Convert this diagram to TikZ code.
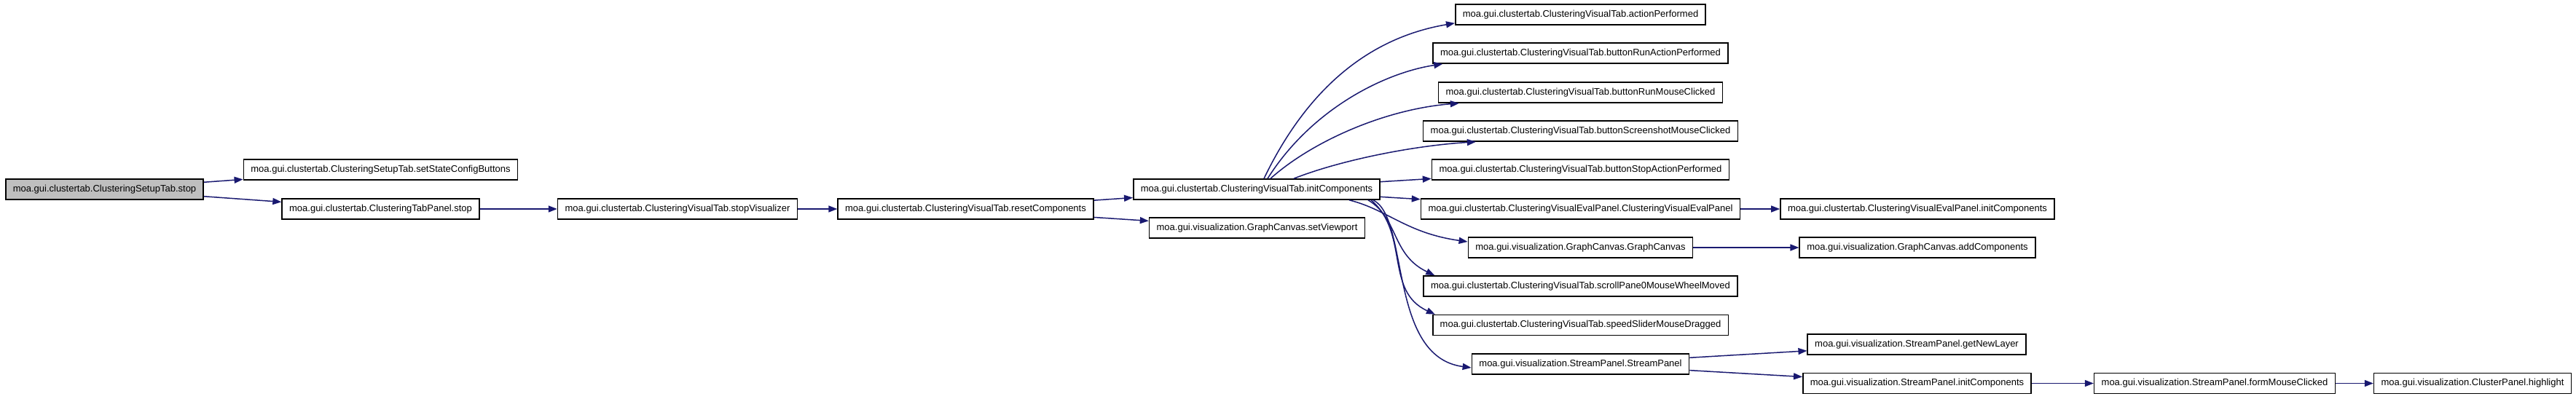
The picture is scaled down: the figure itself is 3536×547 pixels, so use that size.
\documentclass[tikz,border=0pt]{standalone}
\usepackage{fontspec}
\setmainfont{Liberation Sans}
\usetikzlibrary{arrows.meta}
\definecolor{edgeblue}{RGB}{25,25,112}
\definecolor{rootgray}{RGB}{191,191,191}
\tikzset{
  callbox/.style={rectangle, draw=black, line width=1.6pt, fill=white,
                  inner xsep=10pt, inner ysep=0pt, minimum height=28pt,
                  font=\fontsize{13pt}{15pt}\selectfont},
  rootbox/.style={callbox, fill=rootgray},
  arrow/.style={-{Triangle[length=12pt,width=9pt]}, line width=1.5pt, draw=edgeblue, fill=edgeblue},
}

\begin{document}
\begin{tikzpicture}[
    x=1pt,
    y=-1pt,
  ]
    \useasboundingbox (0,0) rectangle (3536,547);

    % Caller chain
    \node[rootbox] (setup_stop) at (143.5,260) {moa.gui.clustertab.ClusteringSetupTab.stop};
    \node[callbox] (set_state) at (522.5,233) {moa.gui.clustertab.ClusteringSetupTab.setStateConfigButtons};
    \node[callbox] (panel_stop) at (522.5,287) {moa.gui.clustertab.ClusteringTabPanel.stop};
    \node[callbox] (stop_vis) at (930,287) {moa.gui.clustertab.ClusteringVisualTab.stopVisualizer};
    \node[callbox] (reset_comp) at (1325.5,287) {moa.gui.clustertab.ClusteringVisualTab.resetComponents};
    \node[callbox] (init_comp) at (1725,260) {moa.gui.clustertab.ClusteringVisualTab.initComponents};
    \node[callbox] (set_viewport) at (1725.5,313) {moa.gui.visualization.GraphCanvas.setViewport};

    % Callees of initComponents
    \node[callbox] (action_perf) at (2169.5,20) {moa.gui.clustertab.ClusteringVisualTab.actionPerformed};
    \node[callbox] (run_action) at (2169.5,73) {moa.gui.clustertab.ClusteringVisualTab.buttonRunActionPerformed};
    \node[callbox] (run_mouse) at (2169.5,127) {moa.gui.clustertab.ClusteringVisualTab.buttonRunMouseClicked};
    \node[callbox] (screenshot) at (2169.5,180) {moa.gui.clustertab.ClusteringVisualTab.buttonScreenshotMouseClicked};
    \node[callbox] (stop_action) at (2169.5,233) {moa.gui.clustertab.ClusteringVisualTab.buttonStopActionPerformed};
    \node[callbox] (eval_panel) at (2169.5,287) {moa.gui.clustertab.ClusteringVisualEvalPanel.ClusteringVisualEvalPanel};
    \node[callbox] (graph_canvas) at (2169.5,340) {moa.gui.visualization.GraphCanvas.GraphCanvas};
    \node[callbox] (scroll_wheel) at (2169.5,393) {moa.gui.clustertab.ClusteringVisualTab.scrollPane0MouseWheelMoved};
    \node[callbox] (speed_drag) at (2169.5,446.5) {moa.gui.clustertab.ClusteringVisualTab.speedSliderMouseDragged};
    \node[callbox] (stream_panel) at (2169.5,500) {moa.gui.visualization.StreamPanel.StreamPanel};

    % Right columns
    \node[callbox] (eval_init) at (2632,287) {moa.gui.clustertab.ClusteringVisualEvalPanel.initComponents};
    \node[callbox] (add_comp) at (2632,340) {moa.gui.visualization.GraphCanvas.addComponents};
    \node[callbox] (new_layer) at (2631,473) {moa.gui.visualization.StreamPanel.getNewLayer};
    \node[callbox] (stream_init) at (2631.5,526.5) {moa.gui.visualization.StreamPanel.initComponents};
    \node[callbox] (form_click) at (3040,526.5) {moa.gui.visualization.StreamPanel.formMouseClicked};
    \node[callbox] (highlight) at (3394,526.5) {moa.gui.visualization.ClusterPanel.highlight};

    % Caller chain edges
    \draw[arrow] (setup_stop) -- (set_state);
    \draw[arrow] (setup_stop) -- (panel_stop);
    \draw[arrow] (panel_stop) -- (stop_vis);
    \draw[arrow] (stop_vis) -- (reset_comp);
    \draw[arrow] (reset_comp) -- (init_comp);
    \draw[arrow] (reset_comp) -- (set_viewport);

    % Curved edges up from initComponents
    \draw[arrow, fill=none] ([xshift=10pt]init_comp.north) .. controls (1800,110) and (1890,50) .. ([yshift=3pt]action_perf.south west);
    \draw[arrow, fill=none] ([xshift=15pt]init_comp.north) .. controls (1800,150) and (1900,100) .. ([xshift=14pt]run_action.south west);
    \draw[arrow, fill=none] ([xshift=19pt]init_comp.north) .. controls (1800,195) and (1900,150) .. ([xshift=29pt]run_mouse.south west);
    \draw[arrow, fill=none] ([xshift=51pt]init_comp.north) .. controls (1840,220) and (1940,200) .. ([xshift=73pt]screenshot.south west);
    \draw[arrow] (init_comp) -- (stop_action);
    \draw[arrow] (init_comp) -- (eval_panel);

    % Curved edges down from initComponents
    \draw[arrow, fill=none] ([xshift=127pt]init_comp.south) .. controls (1905,288) and (1930,320) .. ([yshift=8pt]graph_canvas.west);
    \draw[arrow, fill=none] ([xshift=153pt]init_comp.south) .. controls (1920,300) and (1910,350) .. ([xshift=16pt]scroll_wheel.north west);
    \draw[arrow, fill=none] ([xshift=157pt]init_comp.south) .. controls (1935,320) and (1900,400) .. ([xshift=4pt]speed_drag.north west);
    \draw[arrow, fill=none] ([xshift=160pt]init_comp.south) .. controls (1935,300) and (1905,490) .. ([yshift=-5pt]stream_panel.west);

    % Right side edges
    \draw[arrow] (eval_panel) -- (eval_init);
    \draw[arrow] (graph_canvas) -- (add_comp);
    \draw[arrow] (stream_panel) -- (new_layer);
    \draw[arrow] (stream_panel) -- (stream_init);
    \draw[arrow] (stream_init) -- (form_click);
    \draw[arrow] (form_click) -- (highlight);
  \end{tikzpicture}
\end{document}
